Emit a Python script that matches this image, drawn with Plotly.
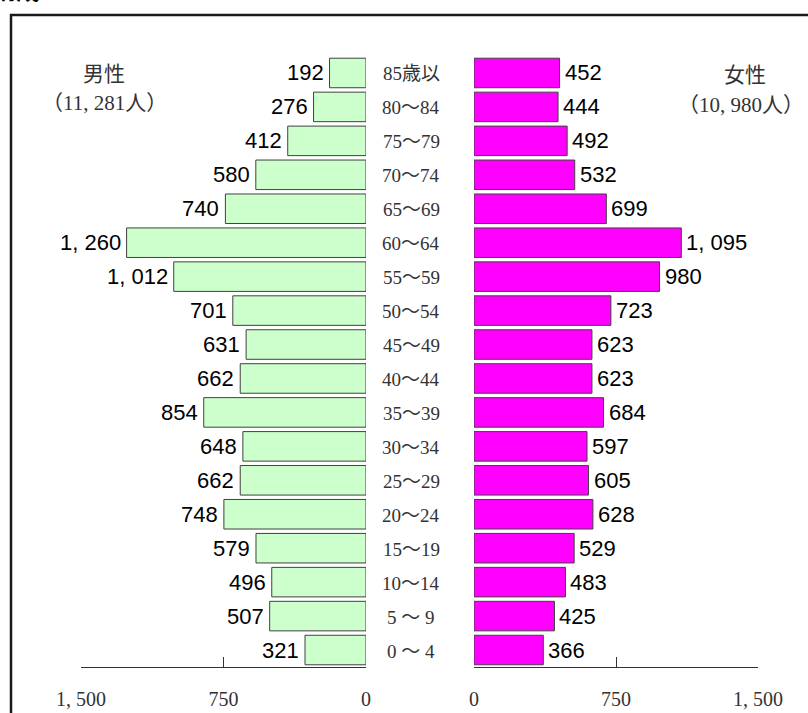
import plotly.graph_objects as go

# Age groups, youngest first (bottom of the pyramid)
age_groups = ["0 ～ 4", "5 ～ 9", "10～14", "15～19", "20～24", "25～29", "30～34",
              "35～39", "40～44", "45～49", "50～54", "55～59", "60～64", "65～69",
              "70～74", "75～79", "80～84", "85歳以"]
male = [321, 507, 496, 579, 748, 662, 648, 854, 662, 631, 701, 1012, 1260, 740,
        580, 412, 276, 192]
female = [366, 425, 483, 529, 628, 605, 597, 684, 623, 623, 723, 980, 1095, 699,
          532, 492, 444, 452]
tick_vals = [0, 750, 1500]
tick_text = ["0", "750", "1, 500"]

W, H = 808, 713


def px_x(p):
    return p / W


def px_y(p):
    return 1 - p / H


def fmt(v):
    return f"{v:,}".replace(",", ", ")


SERIF = "Liberation Serif, DejaVu Serif, Noto Sans CJK JP, serif"
GOTHIC = "Liberation Sans, Arial, sans-serif"
GREY = "#333333"

fig = go.Figure()

fig.add_trace(go.Bar(
    y=age_groups, x=male, orientation="h", width=0.87,
    marker=dict(color="#CCFFCC", line=dict(color="#404040", width=1)),
    xaxis="x", yaxis="y", hoverinfo="skip", showlegend=False,
))
fig.add_trace(go.Bar(
    y=age_groups, x=female, orientation="h", width=0.87,
    marker=dict(color="#FF00FF", line=dict(color="#404040", width=1)),
    xaxis="x2", yaxis="y", hoverinfo="skip", showlegend=False,
))

axis_common = dict(
    tickvals=tick_vals, ticktext=tick_text, showgrid=False, zeroline=False,
    showline=True, linecolor=GREY, linewidth=1,
    ticks="inside", ticklen=10, tickcolor=GREY, tickwidth=1,
    tickfont=dict(family=SERIF, size=20, color=GREY),
    ticklabelstandoff=14, automargin=False, fixedrange=True,
)

annotations = []

# value labels beside each bar
for g, v in zip(age_groups, male):
    annotations.append(dict(
        x=v, xref="x", y=g, yref="y", text=fmt(v), showarrow=False,
        xanchor="right", yanchor="middle", xshift=-4,
        font=dict(family=GOTHIC, size=22, color="#000000"),
    ))
for g, v in zip(age_groups, female):
    annotations.append(dict(
        x=v, xref="x2", y=g, yref="y", text=fmt(v), showarrow=False,
        xanchor="left", yanchor="middle", xshift=3,
        font=dict(family=GOTHIC, size=22, color="#000000"),
    ))

# age group labels between the two halves
for g in age_groups:
    annotations.append(dict(
        x=px_x(411), xref="paper", y=g, yref="y", text=g, showarrow=False,
        font=dict(family=SERIF, size=19, color=GREY),
        xanchor="center", yanchor="middle", yshift=-1,
    ))

head_font = dict(family=SERIF, size=21, color=GREY)
annotations += [
    dict(x=px_x(104), y=px_y(74), xref="paper", yref="paper", text="男性",
         showarrow=False, xanchor="center", yanchor="middle", font=head_font),
    dict(x=px_x(104), y=px_y(103), xref="paper", yref="paper",
         text=f"（{fmt(sum(male))}人）", showarrow=False,
         xanchor="center", yanchor="middle", font=head_font),
    dict(x=px_x(745), y=px_y(75), xref="paper", yref="paper", text="女性",
         showarrow=False, xanchor="center", yanchor="middle", font=head_font),
    dict(x=px_x(741), y=px_y(105), xref="paper", yref="paper",
         text=f"（{fmt(sum(female))}人）", showarrow=False,
         xanchor="center", yanchor="middle", font=head_font),
    dict(x=px_x(-10), y=px_y(8), xref="paper", yref="paper", text="<b>構成</b>",
         showarrow=False, xanchor="left", yanchor="bottom",
         font=dict(family="Noto Sans CJK JP", size=24, color="#000000")),
]

fig.update_layout(
    width=W, height=H, margin=dict(l=0, r=0, t=0, b=0, autoexpand=False),
    paper_bgcolor="white", plot_bgcolor="rgba(0,0,0,0)",
    xaxis=dict(domain=[px_x(81), px_x(366)], range=[1500, 0], anchor="y", **axis_common),
    xaxis2=dict(domain=[px_x(474), px_x(758)], range=[0, 1500], anchor="y", **axis_common),
    yaxis=dict(domain=[px_y(667), px_y(56)], range=[-0.5, 17.5], visible=False,
               automargin=False, categoryorder="array", categoryarray=age_groups,
               fixedrange=True),
    annotations=annotations,
    shapes=[dict(type="rect", xref="paper", yref="paper",
                 x0=px_x(11), x1=1.1, y0=-0.1, y1=px_y(15),
                 line=dict(color="#1a1a1a", width=2.5))],
)

fig.write_html("out.html")
